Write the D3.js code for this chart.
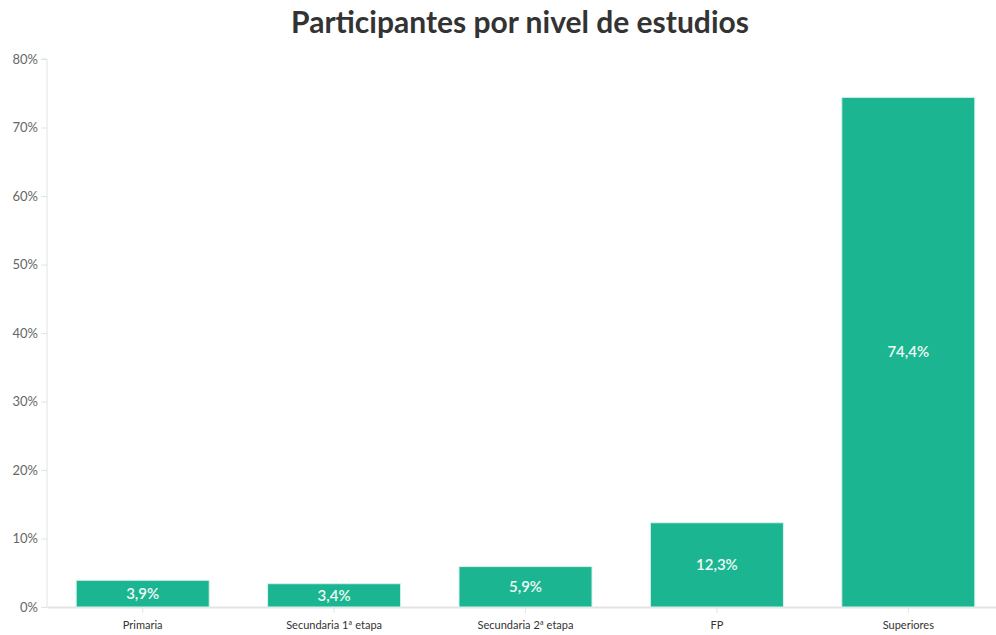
<!DOCTYPE html>
<html>
<head>
<meta charset="utf-8">
<script src="https://cdn.jsdelivr.net/npm/d3@7"></script>
<style>
    body { margin: 0; background: #fff; }
    text { font-family: "Lato", "Open Sans", sans-serif; }
</style>
</head>
<body>
<div id="chart"></div>
<script>
const categories = ["Primaria", "Secundaria 1ª etapa", "Secundaria 2ª etapa", "FP", "Superiores"];
const values = [3.9, 3.4, 5.9, 12.3, 74.4];
const yTicks = [0, 10, 20, 30, 40, 50, 60, 70, 80];

const width = 996;
const height = 635;
const margin = { top: 59, bottom: 28, left: 47, right: -8 };

const svg = d3
    .select("#chart")
    .append("svg")
    .attr("width", width)
    .attr("height", height);

let x = d3
    .scaleBand()
    .domain(categories)
    .range([margin.left, width - margin.right])
    .paddingInner(0.305)
    .paddingOuter(0.1525);
let y = d3
    .scaleLinear()
    .domain([0, 80])
    .range([height - margin.bottom, margin.top]);

// title
svg.append("text")
    .attr("x", 520)
    .attr("y", 33)
    .attr("text-anchor", "middle")
    .style("font-size", "30px")
    .style("font-weight", "bold")
    .style("fill", "#333")
    .text("Participantes por nivel de estudios");

// y axis
const yAxisGroup = svg.append("g")
    .attr("transform", `translate(${margin.left},0)`)
    .call(d3.axisLeft(y).tickValues(yTicks).tickSize(6).tickFormat((d) => d + "%"));
yAxisGroup.select(".domain").attr("stroke", "#e3e3e3").attr("d", `M-6,${y(80)}H0V${y(0)}`);
yAxisGroup.selectAll(".tick line").attr("stroke", "#e3e3e3");
yAxisGroup.selectAll(".tick text")
    .attr("x", -9)
    .style("font-size", "13px")
    .style("fill", "#666");

// x axis
const xAxisGroup = svg.append("g")
    .attr("transform", `translate(0,${y(0)})`)
    .call(d3.axisBottom(x).tickSize(6).tickSizeOuter(0));
xAxisGroup.select(".domain").attr("stroke", "#e3e3e3").attr("stroke-width", 2);
xAxisGroup.selectAll(".tick line").attr("stroke", "#e3e3e3");
xAxisGroup.selectAll(".tick text")
    .attr("y", 14)
    .style("font-size", "11px")
    .style("fill", "#333");

// bars
const bars = svg.append("g").attr("id", "bars");
bars.selectAll("rect")
    .data(values)
    .enter()
    .append("rect")
    .attr("x", (d, i) => x(categories[i]))
    .attr("y", (d) => y(d))
    .attr("width", x.bandwidth())
    .attr("height", (d) => y(0) - y(d))
    .attr("fill", "#1bb591")
    .attr("stroke", "#d8f2ea")
    .attr("stroke-width", 1);

// value labels
bars.selectAll("text")
    .data(values)
    .enter()
    .append("text")
    .attr("x", (d, i) => x(categories[i]) + x.bandwidth() / 2)
    .attr("y", (d) => (y(d) + y(0)) / 2)
    .attr("dy", "0.35em")
    .attr("text-anchor", "middle")
    .style("font-size", "15px")
    .style("font-weight", "600")
    .style("fill", "#eef9f5")
    .text((d) => d.toFixed(1).replace(".", ",") + "%");
</script>
</body>
</html>
